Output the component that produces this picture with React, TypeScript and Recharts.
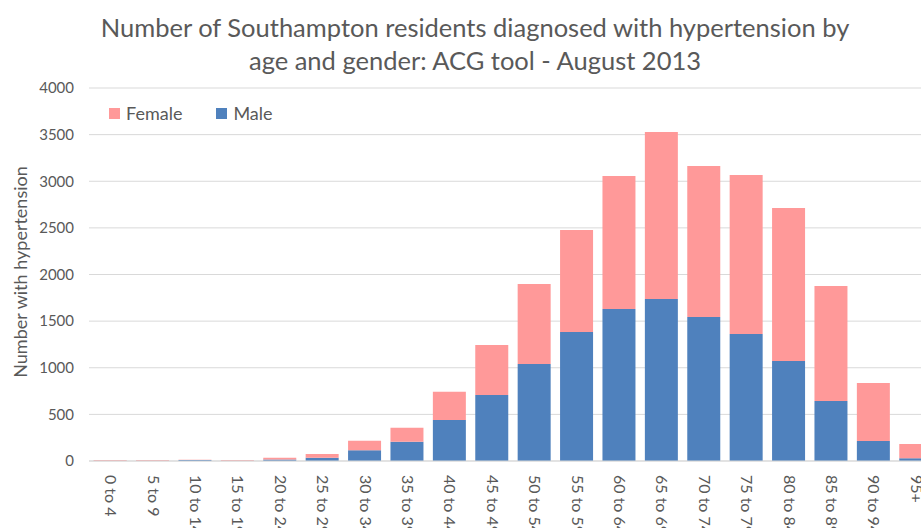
import { Bar, BarChart, CartesianGrid, XAxis, YAxis } from "recharts";

const ageBands = [
  "0 to 4", "5 to 9", "10 to 14", "15 to 19", "20 to 24", "25 to 29", "30 to 34",
  "35 to 39", "40 to 44", "45 to 49", "50 to 54", "55 to 59", "60 to 64", "65 to 69",
  "70 to 74", "75 to 79", "80 to 84", "85 to 89", "90 to 94", "95+",
];
const male = [2, 2, 10, 3, 15, 35, 115, 207, 440, 708, 1040, 1383, 1630, 1737, 1544, 1362, 1072, 643, 214, 30];
const female = [8, 8, 4, 8, 20, 40, 103, 150, 303, 536, 858, 1094, 1426, 1791, 1619, 1705, 1641, 1234, 622, 152];
const yTicks = [0, 500, 1000, 1500, 2000, 2500, 3000, 3500, 4000];

const data = ageBands.map((age, i) => ({ age, Male: male[i], Female: female[i] }));

const FONT = "Lato, 'Open Sans', sans-serif";
const GREY = "#595959";

function AgeTick({ x, y, payload }: any) {
  return (
    <text
      x={x}
      y={y}
      transform={`rotate(90 ${x} ${y})`}
      dx={6}
      dy={5}
      textAnchor="start"
      fontSize={16}
      fill={GREY}
      fontFamily={FONT}
    >
      {payload.value}
    </text>
  );
}

const keyItems = [
  { name: "Female", color: "#FF9999" },
  { name: "Male", color: "#4F81BD" },
];

export default function App() {
  return (
    <div style={{ position: "absolute", left: 0, top: 0, width: 921, height: 528, overflow: "hidden", background: "#fff" }}>
      <div
        style={{
          position: "absolute",
          left: 0,
          width: 950,
          top: 11,
          textAlign: "center",
          fontFamily: FONT,
          fontSize: 25.5,
          lineHeight: "33px",
          color: GREY,
        }}
      >
        Number of Southampton residents diagnosed with hypertension by
        <br />
        age and gender: ACG tool - August 2013
      </div>
      <div
        style={{
          position: "absolute",
          left: 20,
          top: 272,
          transform: "translate(-50%, -50%) rotate(-90deg)",
          whiteSpace: "nowrap",
          fontFamily: FONT,
          fontSize: 18,
          color: GREY,
        }}
      >
        Number with hypertension
      </div>
      <div style={{ position: "absolute", left: 0, top: 0 }}>
        <BarChart
          width={950}
          height={600}
          data={data}
          margin={{ top: 88, right: 13, left: 0, bottom: 0 }}
          barCategoryGap="11%"
        >
          <CartesianGrid vertical={false} stroke="#d9d9d9" />
          <XAxis
            dataKey="age"
            interval={0}
            height={139}
            tickLine={false}
            axisLine={{ stroke: "#d9d9d9" }}
            tick={<AgeTick />}
          />
          <YAxis
            width={89}
            domain={[0, 4000]}
            ticks={yTicks}
            axisLine={false}
            tickLine={false}
            tickSize={0}
            tickMargin={15}
            tick={{ fontSize: 15, fill: GREY, fontFamily: FONT }}
          />
          <Bar dataKey="Male" stackId="a" fill="#4F81BD" isAnimationActive={false} />
          <Bar dataKey="Female" stackId="a" fill="#FF9999" isAnimationActive={false} />
        </BarChart>
      </div>
      <div
        style={{
          position: "absolute",
          left: 109,
          top: 102,
          display: "flex",
          gap: 34,
          fontFamily: FONT,
          fontSize: 18,
          color: GREY,
        }}
      >
        {keyItems.map((it) => (
          <div key={it.name} style={{ display: "flex", alignItems: "center" }}>
            <span style={{ width: 11, height: 11, background: it.color, marginRight: 6 }} />
            {it.name}
          </div>
        ))}
      </div>
    </div>
  );
}
